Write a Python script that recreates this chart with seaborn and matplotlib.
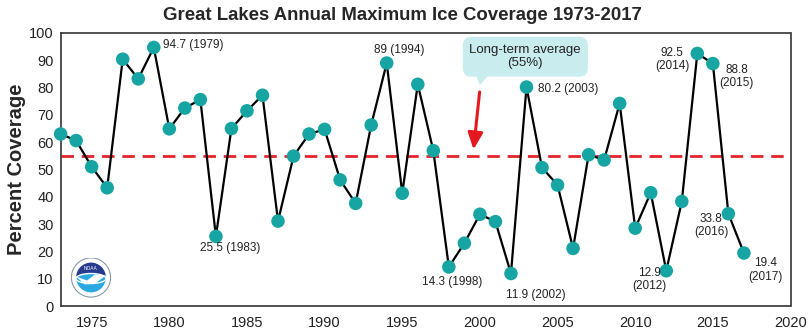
import matplotlib
matplotlib.use("Agg")
import matplotlib.pyplot as plt
import seaborn as sns
import pandas as pd
from matplotlib.patches import Circle, Wedge, FancyBboxPatch, Polygon, Ellipse

years = list(range(1973, 2018))
coverage = [63.0, 60.6, 51.0, 43.3, 90.4, 83.2, 94.7, 64.9, 72.5, 75.6,
            25.5, 65.0, 71.5, 77.2, 31.1, 54.9, 63.0, 64.7, 46.2, 37.6,
            66.3, 89.0, 41.3, 81.2, 56.9, 14.3, 23.0, 33.6, 30.9, 11.9,
            80.2, 50.7, 44.3, 21.1, 55.4, 53.5, 74.2, 28.5, 41.5, 12.9,
            38.3, 92.5, 88.8, 33.8, 19.4]
long_term_avg = 55
labelled_years = [1979, 1983, 1994, 1998, 2002, 2003, 2012, 2014, 2015, 2016, 2017]
two_line_years = [2012, 2014, 2015, 2016, 2017]
x_ticks = [1975, 1980, 1985, 1990, 1995, 2000, 2005, 2010, 2015, 2020]
y_ticks = [0, 10, 20, 30, 40, 50, 60, 70, 80, 90, 100]
title = "Great Lakes Annual Maximum Ice Coverage 1973-2017"
ylabel = "Percent Coverage"
callout = "Long-term average\n(55%)"

df = pd.DataFrame({"year": years, "coverage": coverage})

sns.set_style("white")
plt.rcParams["font.family"] = ["Liberation Sans", "DejaVu Sans"]

fig = plt.figure(figsize=(8.1, 3.3), dpi=100)
ax = fig.add_axes([60.6 / 810, 1 - 306 / 330, (790.5 - 60.6) / 810, (306 - 33) / 330])

ax.axhline(long_term_avg, color="#e3242b", lw=2, dashes=(4.5, 2.8), zorder=1)
sns.lineplot(data=df, x="year", y="coverage", color="black", lw=1.6, ax=ax, zorder=2)
sns.scatterplot(data=df, x="year", y="coverage", color="#17a5a3", s=95,
                edgecolor="none", ax=ax, zorder=3, clip_on=False)

ax.set_xlim(1973, 2020)
ax.set_ylim(0, 100)
ax.set_xticks(x_ticks)
ax.set_yticks(y_ticks)
ax.tick_params(axis="both", labelsize=10.5, length=3, direction="out",
               color="#333333", pad=2, labelcolor="#222222")
ax.tick_params(axis="x", pad=4)
ax.set_xlabel("")
ax.set_ylabel(ylabel, fontsize=14.5, fontweight="bold", labelpad=2.5)
for s in ax.spines.values():
    s.set_color("#333333")
    s.set_linewidth(1.2)

fig.text(0.497, 1 - 15 / 330, title, ha="center", va="center",
         fontsize=13.4, fontweight="bold")

offsets = {
    1979: (9, 2, "left"), 1983: (14, -12, "center"), 1994: (13, 13, "center"),
    1998: (3, -15, "center"), 2002: (25, -21, "center"), 2003: (12, -2, "left"),
    2012: (-17, -9, "center"), 2014: (-25, -6, "center"), 2015: (24, -13, "center"),
    2016: (-17, -12, "center"), 2017: (22, -17, "center"),
}
val = dict(zip(years, coverage))
for yr in labelled_years:
    v = val[yr]
    vs = f"{v:g}"
    txt = f"{vs}\n({yr})" if yr in two_line_years else f"{vs} ({yr})"
    dx, dy, ha = offsets[yr]
    ax.annotate(txt, (yr, v), xytext=(dx, dy), textcoords="offset pixels",
                ha=ha, va="center", fontsize=8.5, color="#222222",
                multialignment="center", linespacing=1.15)

# callout box
box = FancyBboxPatch((1998.9, 84.0), 8.05, 14.6, boxstyle="round,pad=0,rounding_size=0.55",
                     transform=ax.transData, facecolor="#c9ecef", edgecolor="none",
                     zorder=4, mutation_aspect=5.5)
ax.add_patch(box)
ax.add_patch(Polygon([(1999.75, 84.5), (2000.55, 84.5), (2000.0, 80.9)],
                     closed=True, facecolor="#c9ecef", edgecolor="none", zorder=4))
ax.text(2002.9, 91.4, callout, ha="center", va="center", fontsize=9.5,
        color="#222222", zorder=5, linespacing=1.2)
ax.annotate("", xy=(1999.57, 56.3), xytext=(2000.0, 79.4),
            arrowprops=dict(arrowstyle="-|>,head_width=0.45,head_length=1.0",
                            color="#e3191f", lw=2.2), zorder=5)

# simple emblem (logo)
lax = fig.add_axes([(91 - 20) / 810, 1 - (277.5 + 20) / 330, 40 / 810, 40 / 330])
lax.set_xlim(-1, 1)
lax.set_ylim(-1, 1)
lax.set_aspect("equal")
lax.axis("off")
lax.add_patch(Circle((0, 0), 0.98, facecolor="white", edgecolor="#8899aa", lw=0.8))
lax.add_patch(Wedge((0, 0), 0.78, 0, 180, facecolor="#263a8f"))
lax.add_patch(Wedge((0, 0), 0.78, 180, 360, facecolor="#2aa9e0"))
lax.add_patch(Ellipse((0, -0.05), 1.5, 0.5, facecolor="#2aa9e0"))
lax.add_patch(Polygon([(-0.75, 0.05), (-0.2, -0.15), (0.2, 0.15), (0.75, 0.1),
                       (0.2, -0.3), (-0.3, -0.35)], closed=True,
                      facecolor="white", edgecolor="none"))
lax.text(0, 0.45, "NOAA", ha="center", va="center", fontsize=3.5, color="white")

fig.savefig("out.png", dpi=100)
